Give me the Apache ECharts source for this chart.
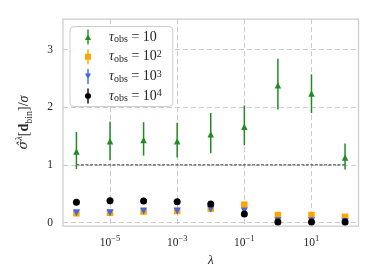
<!DOCTYPE html>
<html>
<head>
<meta charset="utf-8">
<script src="https://cdn.jsdelivr.net/npm/echarts@6/dist/echarts.min.js"></script>
<style>html,body{margin:0;padding:0;background:#fff;}#c{width:374px;height:280px;}</style>
</head>
<body>
<div id="c"></div>
<script>
// lambda = 10^exp
const lambdaExp = [-6, -5, -4, -3, -2, -1, 0, 1, 2];
const tau10     = [1.23, 1.41, 1.43, 1.41, 1.53, 1.66, 2.38, 2.24, 1.13];
const tau10Lo   = [0.93, 1.08, 1.16, 1.13, 1.20, 1.34, 1.96, 1.90, 0.92];
const tau10Hi   = [1.57, 1.75, 1.74, 1.73, 1.90, 2.03, 2.84, 2.57, 1.37];
const tau100    = [0.16, 0.17, 0.19, 0.20, 0.24, 0.31, 0.13, 0.13, 0.10];
const tau1000   = [0.17, 0.17, 0.20, 0.20, 0.23, 0.20, 0.03, 0.03, 0.02];
const tau10000  = [0.35, 0.38, 0.375, 0.36, 0.32, 0.15, 0.01, 0.01, 0.01];
const refLevel  = 1;
const xTicks = [-5, -3, -1, 1];
const yTicks = [0, 1, 2, 3];
const legendSup = { t1: '', t2: '2', t3: '3', t4: '4' };

const C_GREEN = '#228b22', C_ORANGE = '#ffa500', C_BLUE = '#4169e1', C_BLACK = '#000000';
const SERIF = '"Liberation Serif", "DejaVu Serif", serif';
const TXT = '#262626';

const pts = arr => lambdaExp.map((x, i) => [x, arr[i]]);
const errData = lambdaExp.map((x, i) => [x, tau10Lo[i], tau10Hi[i]]);

const bar = 'M2.3,0 L3.7,0 L3.7,15 L2.3,15 Z';
const icons = {
  t1: 'path://M3,4.5 L6,10.5 L0,10.5 Z ' + bar,
  t2: 'path://M0,4.5 L6,4.5 L6,10.5 L0,10.5 Z ' + bar,
  t3: 'path://M0,4.5 L6,4.5 L3,10.5 Z ' + bar,
  t4: 'path://M0,7.5 A3,3 0 1,1 6,7.5 A3,3 0 1,1 0,7.5 Z ' + bar
};

const chart = echarts.init(document.getElementById('c'), null, { renderer: 'canvas' });
chart.setOption({
  backgroundColor: '#ffffff',
  animation: false,
  grid: { left: 63, right: 15.5, top: 19, bottom: 54, show: true, borderColor: '#cccccc', borderWidth: 1.25, backgroundColor: 'transparent' },
  xAxis: {
    type: 'value', min: -6.4, max: 2.4,
    axisLine: { show: false }, axisTick: { show: false, customValues: xTicks },
    splitLine: { show: true, lineStyle: { color: '#cccccc', width: 1, type: [5, 3] } },
    axisLabel: {
      customValues: xTicks, margin: 8, color: TXT,
      formatter: v => { const e = Math.round(v); return '{b|10}{s|' + (e < 0 ? '\u2212' + (-e) : e) + '}'; },
      rich: {
        b: { fontFamily: SERIF, fontSize: 11.5, color: TXT, lineHeight: 15, verticalAlign: 'bottom' },
        s: { fontFamily: SERIF, fontSize: 8.5, color: TXT, lineHeight: 9, verticalAlign: 'top' }
      }
    },
    name: 'λ', nameLocation: 'middle', nameGap: 23,
    nameTextStyle: { fontFamily: SERIF, fontSize: 13, fontStyle: 'italic', color: TXT }
  },
  yAxis: {
    type: 'value', min: -0.06, max: 3.53,
    axisLine: { show: false }, axisTick: { show: false, customValues: yTicks },
    splitLine: { show: true, lineStyle: { color: '#cccccc', width: 1, type: [5, 3] } },
    axisLabel: { customValues: yTicks, margin: 10, fontFamily: SERIF, fontSize: 11.5, color: TXT },
    name: '{h|σ\u0302}{sup|λ}{n|[}{d|d}{sub|bin}{n|]/}{i|σ}', nameLocation: 'middle', nameRotate: 90, nameGap: 29,
    nameTextStyle: {
      color: TXT,
      rich: {
        h: { fontFamily: '"DejaVu Serif", serif', fontSize: 13, fontStyle: 'italic', color: TXT, lineHeight: 20, verticalAlign: 'middle' },
        i: { fontFamily: SERIF, fontSize: 14, fontStyle: 'italic', color: TXT, lineHeight: 20, verticalAlign: 'middle' },
        n: { fontFamily: SERIF, fontSize: 14, color: TXT, lineHeight: 20, verticalAlign: 'middle' },
        d: { fontFamily: SERIF, fontSize: 14, fontWeight: 'bold', color: TXT, lineHeight: 20, verticalAlign: 'middle' },
        sup: { fontFamily: SERIF, fontSize: 10, fontStyle: 'italic', color: TXT, lineHeight: 10, verticalAlign: 'top' },
        sub: { fontFamily: SERIF, fontSize: 10, color: TXT, lineHeight: 10, verticalAlign: 'bottom' }
      }
    }
  },
  legend: {
    orient: 'vertical', left: 70, top: 26.5,
    padding: [3, 11, 3, 15], itemGap: 4.7, itemWidth: 6, itemHeight: 15,
    backgroundColor: 'rgba(255,255,255,0.85)', borderColor: '#cccccc', borderWidth: 1, borderRadius: 4,
    data: [
      { name: 't1', icon: icons.t1, itemStyle: { color: C_GREEN } },
      { name: 't2', icon: icons.t2, itemStyle: { color: C_ORANGE } },
      { name: 't3', icon: icons.t3, itemStyle: { color: C_BLUE } },
      { name: 't4', icon: icons.t4, itemStyle: { color: C_BLACK } }
    ],
    formatter: name => '{sp|}{t|τ}{sub|obs}{n| = 10}' + (legendSup[name] ? '{sup|' + legendSup[name] + '}' : ''),
    textStyle: {
      color: TXT,
      rich: {
        sp: { width: 13, lineHeight: 15 },
        t: { fontFamily: SERIF, fontSize: 14, fontStyle: 'italic', color: TXT, lineHeight: 15, verticalAlign: 'middle' },
        n: { fontFamily: SERIF, fontSize: 14, color: TXT, lineHeight: 15, verticalAlign: 'middle' },
        sub: { fontFamily: SERIF, fontSize: 10, color: TXT, lineHeight: 8, verticalAlign: 'bottom' },
        sup: { fontFamily: SERIF, fontSize: 10, color: TXT, lineHeight: 8, verticalAlign: 'top' }
      }
    },
    selectedMode: false
  },
  series: [
    {
      type: 'line', name: 'ref', silent: true, symbol: 'none', z: 1,
      data: [[lambdaExp[0], refLevel], [lambdaExp[lambdaExp.length - 1], refLevel]],
      lineStyle: { color: '#333333', width: 1, type: [3, 1.5] }
    },
    {
      type: 'custom', name: 't1', z: 3, color: C_GREEN,
      data: errData,
      encode: { x: 0, y: [1, 2] },
      renderItem: (params, api) => {
        const x = api.value(0);
        const p1 = api.coord([x, api.value(1)]);
        const p2 = api.coord([x, api.value(2)]);
        return { type: 'line', shape: { x1: p1[0], y1: p1[1], x2: p2[0], y2: p2[1] }, style: { stroke: C_GREEN, lineWidth: 1.5 } };
      }
    },
    { type: 'scatter', name: 't1', z: 4, data: pts(tau10), symbol: 'triangle', symbolSize: 6.5, itemStyle: { color: C_GREEN, opacity: 1 } },
    { type: 'scatter', name: 't2', z: 5, data: pts(tau100), symbol: 'rect', symbolSize: 6.5, itemStyle: { color: C_ORANGE, opacity: 1 } },
    { type: 'scatter', name: 't3', z: 6, data: pts(tau1000), symbol: 'path://M0,0 L10,0 L5,10 Z', symbolSize: 7, itemStyle: { color: C_BLUE, opacity: 1 } },
    { type: 'scatter', name: 't4', z: 7, data: pts(tau10000), symbol: 'circle', symbolSize: 7, itemStyle: { color: C_BLACK, opacity: 1 } }
  ]
});
</script>
</body>
</html>
